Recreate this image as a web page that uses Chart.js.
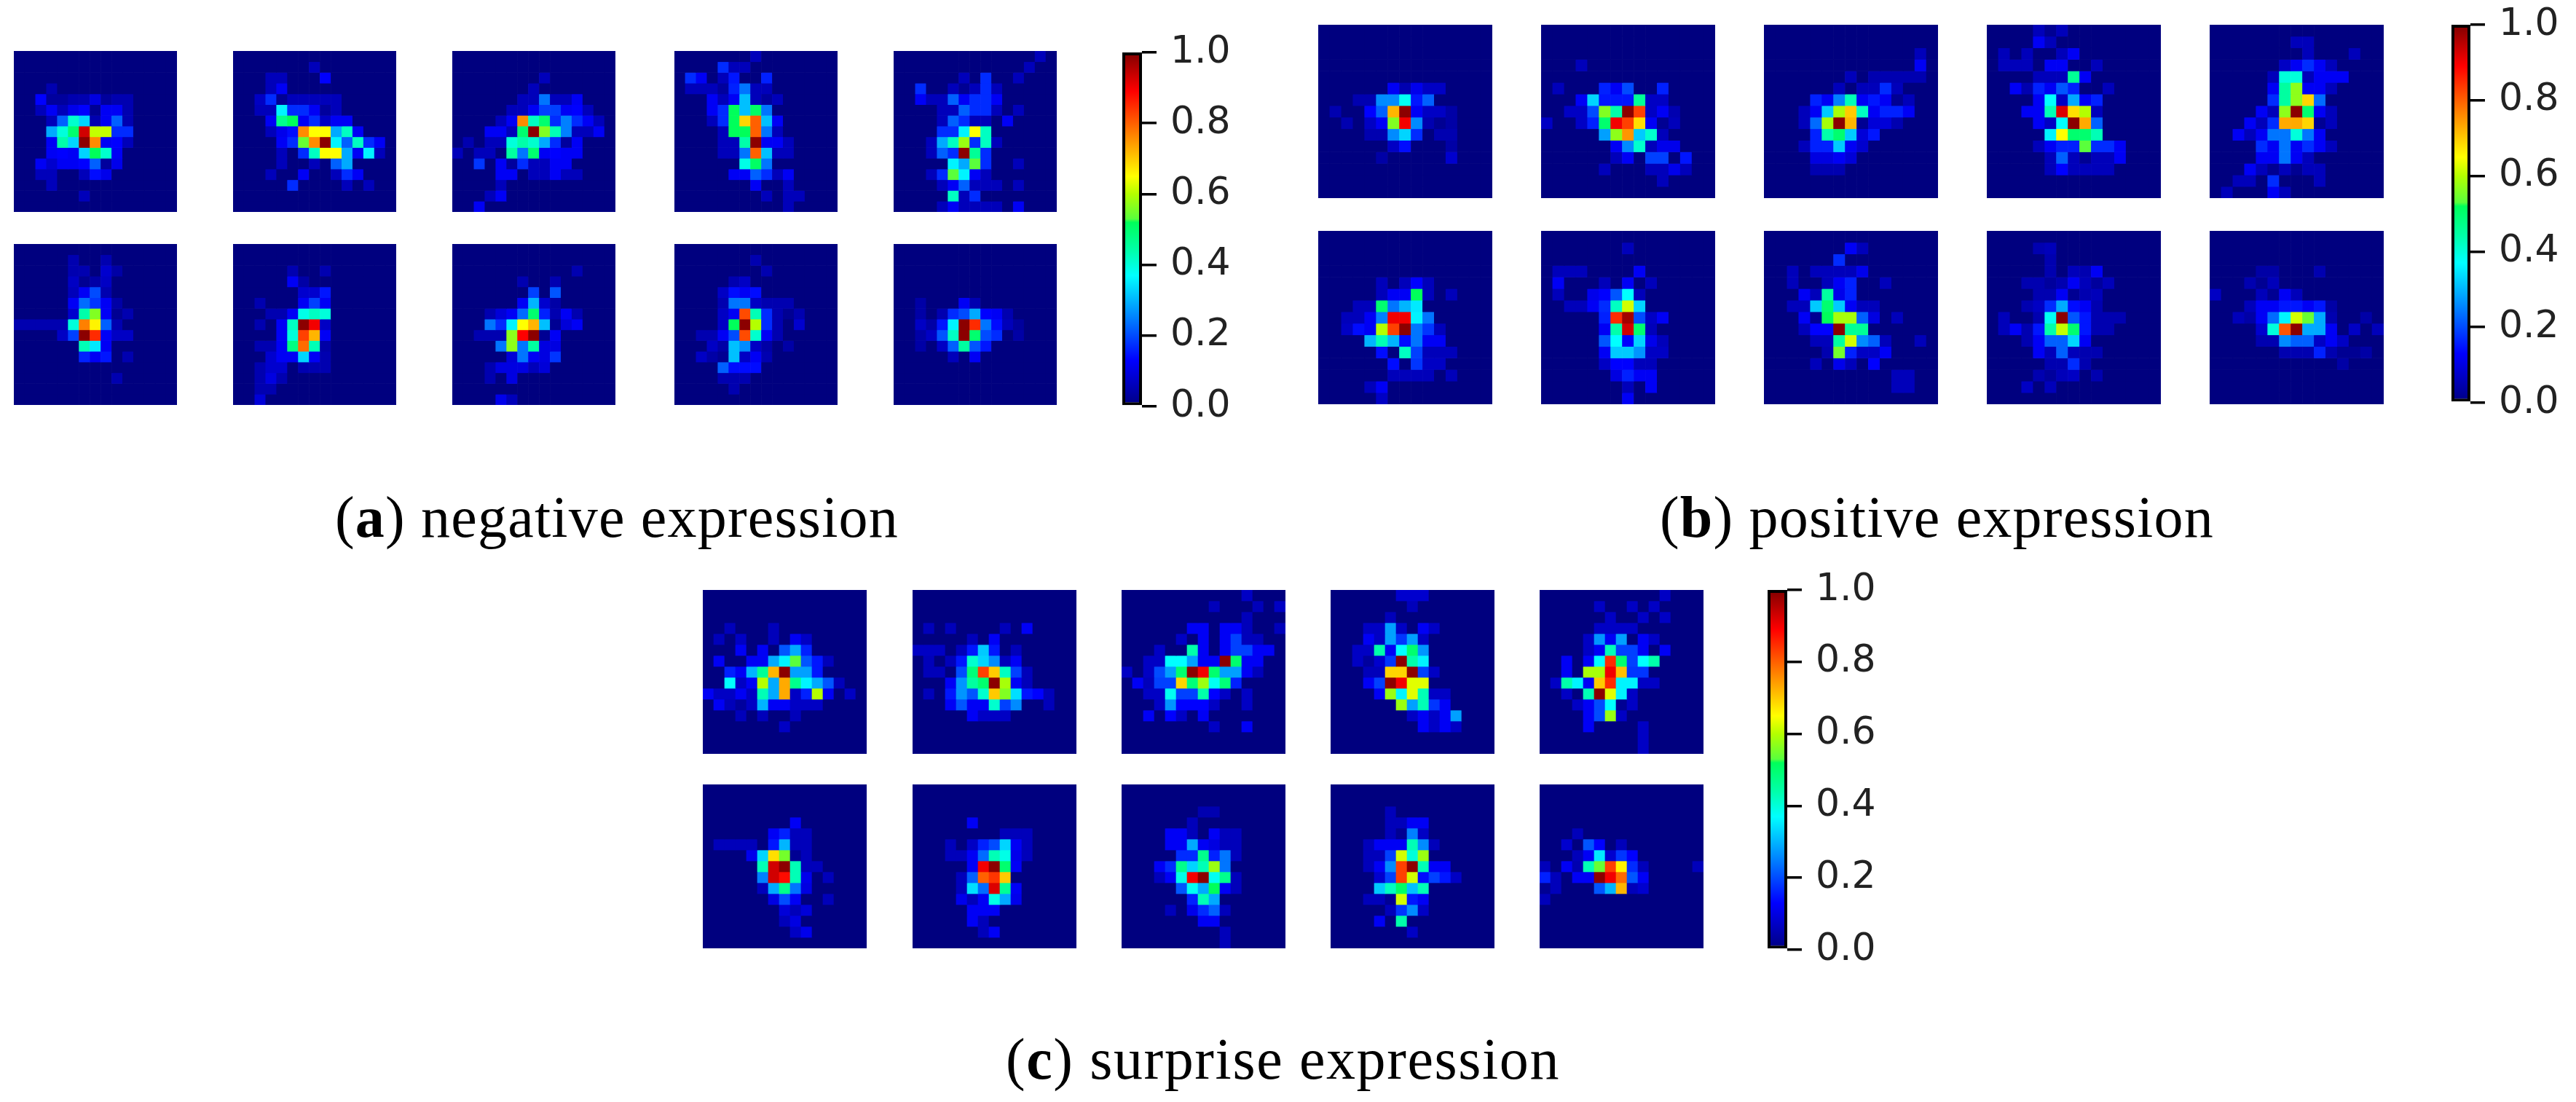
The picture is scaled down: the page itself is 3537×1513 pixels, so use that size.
<!DOCTYPE html>
<html>
<head>
<meta charset="utf-8">
<script src="https://cdn.jsdelivr.net/npm/chart.js@4"></script>
<style>
html, body { margin: 0; padding: 0; background: #fff; }
#page { position: relative; width: 3537px; height: 1513px; overflow: hidden; }
canvas { position: absolute; }
.caption { position: absolute; font: 80px/1 "Liberation Serif", serif; color: #000; white-space: nowrap; }
</style>
</head>
<body>
<div id="page"></div>
<script>
// CELL VALUES IN PERCENT, TOP ROW FIRST. ROWS STOP AT THEIR LAST NON ZERO CELL
const negTop1 = [[],[],[],[0,0,0,5],[0,0,13,3,3,5,5,10,3,5,5],[0,0,6,12,6,11,13,2,12,12,5],[0,0,0,6,22,41,33,5,12,22,5],[0,0,0,29,40,50,93,61,61,17,17],[0,0,0,12,44,33,99,76,12,13,6],[0,0,0,12,13,12,33,52,41,12],[0,0,12,8,12,12,13,22,3,11],[0,0,6,6,0,0,6,14,11],[0,0,0,6],[0,0,0,0,0,0,6],[]];
const negTop2 = [[],[0,0,0,0,0,0,0,6],[0,0,0,6,6,0,0,0,13],[0,0,0,6,12],[0,0,7,17,2,6,6,6,6,6],[0,0,6,6,36,17,17,12,3,6],[0,0,0,12,47,52,12,17,7,12,12],[0,0,0,6,11,14,76,65,65,29,42,12],[0,0,0,0,12,17,54,76,99,36,22,42,17,12],[0,0,0,0,6,0,17,42,65,65,29,12,36,6],[0,0,0,0,6,0,0,6,0,22,29],[0,0,0,6,0,0,12,0,0,6,17,12],[0,0,0,0,0,17,0,0,0,0,6,0,6],[],[]];
const negTop3 = [[],[],[0,0,0,0,0,0,0,0,6],[0,0,0,0,0,0,0,6],[0,0,0,0,0,0,6,6,24,6,6,12],[0,0,0,0,0,6,6,12,19,19,12,13,6],[0,0,0,0,6,12,76,42,50,17,25,17,12,6],[0,0,0,12,12,6,50,99,56,43,25,6,6,12],[0,5,0,6,6,40,44,41,29,17,3,12],[6,0,6,6,0,45,24,50,12,13,12,12],[0,0,18,0,12,3,17,6,6,12,12],[0,0,0,0,12,12,0,6,6,12,6,6],[0,0,0,0,6],[0,0,0,6,12],[0,0,12]];
const negTop4 = [[0,0,0,0,0,0,0,6],[0,0,0,0,17,6,6],[0,17,12,0,6,15,0,0,16],[0,6,6,6,3,16,24,6,6],[0,0,0,12,6,12,31,6,3,6],[0,0,0,12,17,52,31,51,24],[0,0,0,6,17,52,69,80,31,12],[0,0,0,0,6,52,52,80,24,6],[0,0,0,0,6,6,44,99,12,12,6],[0,0,0,0,6,6,24,80,31,6,6],[0,0,0,0,0,0,39,51,24],[0,0,0,0,0,12,12,22,17,6,12],[0,0,0,0,0,0,0,12,0,0,6],[0,0,0,0,0,0,0,0,6,0,6,6],[0,0,0,0,0,0,0,0,0,0,6]];
const negTop5 = [[0,0,0,0,0,0,0,0,0,0,0,0,0,6],[0,0,0,0,0,0,0,0,0,0,0,0,6],[0,0,0,0,0,0,6,0,17,0,0,6],[0,0,17,0,0,6,2,6,17,6],[0,0,12,6,6,22,12,17,17,12],[0,0,0,0,6,6,22,17,17,6,0,6],[0,0,0,0,6,22,17,6,6,0,12],[0,0,0,0,17,17,36,65,42],[0,0,0,6,29,42,58,17,42,6],[0,0,0,6,22,17,99,46,17],[0,0,0,0,0,36,29,53,17,0,0,6],[0,0,0,6,17,53,36,12,6],[0,0,0,0,6,12,22,6,6,6,0,6],[0,0,0,0,0,42,6,17],[0,0,0,0,6,12,6,6,6,6,0,12]];
const negBot1 = [[],[0,0,0,0,0,5,0,0,5],[0,0,0,0,0,5,5,0,8,4],[0,0,0,0,0,7,2,4,7],[0,0,0,0,0,6,12,20,5],[0,0,0,0,0,12,23,18,12,4],[0,0,0,0,0,8,44,56,12,2,5],[5,5,5,5,5,40,77,66,22,5],[0,0,0,0,7,19,99,85,12,7,7],[0,0,0,0,0,0,43,35,12],[0,0,0,0,0,0,16,12,15,0,5],[],[0,0,0,0,0,0,0,0,0,5],[],[]];
const negBot2 = [[],[],[0,0,0,0,0,5,0,0,5],[0,0,0,0,0,12,4],[0,0,0,0,0,0,8,8,15],[0,0,5,0,0,0,12,19,12],[0,0,0,5,5,12,39,42,40],[0,0,5,0,12,42,99,90,7],[0,0,0,0,12,40,83,72,12],[0,0,5,5,12,48,79,43,4],[0,0,0,8,12,12,33,12,5],[0,0,5,8,8,0,5,5,5],[0,0,5,10,5],[0,0,5,5],[0,0,9]];
const negBot3 = [[],[],[0,0,0,0,0,0,0,0,0,0,0,5],[0,0,0,0,0,0,5,0,0,5],[0,0,0,0,0,0,0,19,0,21],[0,0,0,0,0,0,12,30,8,4],[0,0,0,5,9,12,23,50,16,5,12,5],[0,0,0,24,17,36,65,72,31,2,9,12],[0,0,5,5,5,57,89,99,2,12],[0,0,0,0,24,57,24,45,10,10],[0,0,0,0,0,9,24,12,10,18],[0,0,0,5,10,10,10,6,9],[0,0,0,5,0,10],[],[0,0,0,0,11,6]];
const negBot4 = [[],[0,0,0,0,0,0,0,5],[0,0,0,0,0,0,0,0,5],[0,0,0,0,0,5,7],[0,0,0,0,7,14,12,14],[0,0,0,0,5,24,24,7,5,5,5],[0,0,0,0,7,12,82,43,17,5,2,5],[0,0,0,0,7,52,99,60,17,5,0,8],[0,0,5,5,12,20,82,41,12,5],[0,0,0,7,4,31,26,7,4,0,4],[0,0,7,4,2,31,7,12,5],[0,0,0,0,22,14,14,14],[0,0,0,0,5,5,5],[0,0,0,0,0,5],[]];
const negBot5 = [[],[],[],[],[],[0,0,4,0,0,0,12,5],[0,0,4,0,5,17,20,29,13,12,5],[0,0,7,4,15,36,99,85,24,14,6,3],[0,0,4,7,21,42,99,50,20,17,0,4],[0,0,4,0,7,22,45,21,15],[0,0,0,0,0,6,0,12],[],[],[],[]];

const posTop1 = [[],[],[],[],[],[0,0,0,0,0,0,12,5,11,7,7],[0,0,0,5,5,26,26,38,15,22],[0,5,0,0,13,22,72,99,12,7,7,4],[0,0,5,0,7,12,56,90,26,5,2,4],[0,0,0,0,5,5,26,33,17,0,5,5],[0,0,0,0,0,0,7,14,0,0,0,4],[0,0,0,0,0,4,0,0,0,0,0,8],[],[],[]];
const posTop2 = [[],[],[],[0,0,0,6],[],[0,6,0,0,0,16,12,20,0,0,16],[0,0,0,12,33,15,15,15,46,7,7],[0,0,7,7,20,56,44,99,83,7,12,5],[7,0,0,7,16,50,90,83,68,12,2,6],[0,0,0,0,0,28,57,75,32,41,6],[0,0,0,0,0,0,12,26,41,6,11,11],[0,0,0,0,0,0,6,12,0,19,19,0,15],[0,0,0,0,0,6,0,0,0,6,6,11,6],[0,0,0,0,0,0,0,0,0,0,6],[]];
const posTop3 = [[],[],[0,0,0,0,0,0,0,0,0,0,0,0,0,6],[0,0,0,0,0,0,0,0,0,0,0,0,0,12],[0,0,0,0,0,0,0,6,0,5,5,5,5,5],[0,0,0,0,0,0,6,0,6,6,17,6],[0,0,0,0,16,12,25,43,12,15,12,2,6],[0,0,0,6,12,32,59,70,42,12,16,16,12],[0,0,0,6,23,59,99,72,2,9,9,5],[0,0,0,0,16,44,50,32,9,15],[0,0,0,6,16,16,32,12,8],[0,0,0,0,10,10,12,9],[0,0,0,0,5,5,5],[],[]];
const posTop4 = [[0,0,0,0,6,2,6],[0,0,0,0,12,6],[0,6,0,6,0,0,6,12],[0,6,6,6,0,12,12,0,0,6],[0,0,0,0,6,6,6,46,12],[0,0,12,5,16,12,21,16,0,0,6],[0,0,0,0,12,37,7,29,12,16],[0,0,0,12,12,43,92,68,60,6],[0,0,0,0,12,7,37,99,73,22],[0,0,0,0,0,36,65,50,50,43],[0,0,0,0,6,12,16,16,53,17,17,12],[0,0,0,0,0,6,22,6,2,6,6,12],[0,0,0,0,0,6,13,6,6,6,6],[],[]];
const posTop5 = [[],[0,0,0,0,0,0,0,6,6],[0,0,0,0,0,0,0,0,6,0,0,0,6],[0,0,0,0,0,0,7,12,17,12,6],[0,0,0,0,0,6,40,40,6,12,12,12],[0,0,0,0,0,12,45,57,12,12,6],[0,0,0,0,0,17,45,57,69,23],[0,0,0,0,12,6,57,99,50,12,6],[0,0,0,12,6,17,73,73,69,2,6],[0,0,12,6,12,24,24,40,24,12],[0,0,0,0,17,12,24,12,17,12,6],[0,0,0,0,12,12,24,12,6],[0,0,0,12,6,2,6,2,6,6],[0,0,6,6,0,17,0,0,0,6],[0,6,0,0,0,12,6]];
const posBot1 = [[],[],[],[],[0,0,0,0,0,6,0,6,13,6],[0,0,0,0,0,6,12,12,52,6,0,6],[0,0,0,6,6,50,24,30,35],[0,0,6,6,12,25,90,90,36,24],[0,0,7,14,12,60,83,99,24,18,6],[0,0,0,0,30,43,30,14,24,12,12],[0,0,0,0,0,14,0,42,19,6,6,6],[0,0,0,0,0,0,14,0,18,7,7],[0,0,0,0,0,0,6,6,6,6,0,6],[0,0,0,0,6,12],[0,0,0,0,0,7]];
const posBot2 = [[],[0,0,0,0,0,0,0,6],[],[0,6,6,6,0,0,0,0,12],[0,12,0,0,0,6,0,12,0,6],[0,6,0,0,11,13,21,37,6],[0,0,6,6,12,17,42,62,33],[0,0,0,0,0,16,85,97,20,7,12],[0,0,0,0,0,12,44,93,50,6],[0,0,0,0,0,21,37,13,33,11,6],[0,0,0,0,0,12,32,32,27,7,7],[0,0,0,0,0,7,13,13,6,6],[0,0,0,0,0,0,10,16,12,12],[0,0,0,0,0,0,0,6,0,12],[0,0,0,0,0,0,0,12]];
const posBot3 = [[],[0,0,0,0,0,0,0,12,6],[0,0,0,0,0,0,17],[0,0,6,0,6,6,6,6,11],[0,0,6,0,0,6,12,16,0,0,6],[0,0,0,12,6,45,11,16],[0,0,6,6,32,50,32,12,6,6],[0,0,0,12,2,52,59,59,22,10,0,6],[0,0,0,6,13,13,99,46,46],[0,0,0,0,6,6,45,62,26,22,6,0,0,6],[0,0,0,0,0,5,55,16,7,7,12],[0,0,0,0,6,0,11,6,0,13],[0,0,0,0,0,0,0,0,0,0,0,6,6],[0,0,0,0,0,0,0,0,0,0,0,6,6],[]];
const posBot4 = [[],[0,0,0,0,5,6],[0,0,0,0,0,5],[0,0,0,0,0,5,0,6,5,12],[0,0,0,5,5,3,5,12,6,3,6],[0,0,0,0,5,5,12,2,5,6],[0,0,0,5,7,17,29,14,12,5],[0,6,0,0,5,38,99,21,15,5,5,5],[0,6,12,5,15,44,61,50,15,5,5],[0,0,0,5,12,22,22,33,12],[0,0,0,0,12,6,22,6,5,5],[0,0,0,0,0,5,5,17,5],[0,0,0,0,5,3,6,7,0,5],[0,0,0,7,0,6],[]];
const posBot5 = [[],[],[],[0,0,0,0,4,4,0,0,0,5],[0,0,0,5,2,6],[7,0,0,0,6,2,12,6],[0,0,0,6,12,12,15,15,12,15,4],[0,0,6,4,12,23,36,62,54,29,5,0,0,4],[0,0,0,0,8,40,81,99,29,29,12,0,7,0,6],[0,0,0,0,5,5,26,22,22,7,12,7],[0,0,0,0,0,0,5,5,5,16,5,2,2,4],[0,0,0,0,0,0,0,0,0,0,0,4],[],[],[]];

const surTop1 = [[],[],[],[0,0,6,0,0,0,6],[0,6,0,7,0,0,6,0,12,7],[0,0,0,12,0,12,0,21,29,16],[0,12,0,0,12,12,29,36,53,21,15,6],[0,0,16,12,30,46,72,99,28,28,15],[0,0,37,7,12,60,29,73,47,36,29,21,6],[12,7,7,12,7,43,29,73,7,16,60,12,0,7],[0,12,6,3,7,30,12,12,7,7,7],[0,0,0,6,0,6,0,0,6],[0,0,0,0,0,0,0,7],[],[]];
const surTop2 = [[],[],[],[0,6,0,6,0,0,0,0,6,0,12],[0,0,0,0,0,6,0,12],[7,7,7,0,6,15,32,15,0,6],[0,6,0,6,15,41,33,26,6,12],[0,6,6,0,20,49,83,70,42,19,6],[0,0,0,12,27,45,50,99,59,12,6],[0,6,0,15,27,21,41,70,56,34,15,13,6],[0,0,0,12,21,12,12,41,19,26,0,0,6],[0,0,0,0,0,12,7,7,7],[],[],[]];
const surTop3 = [[0,0,0,0,0,0,0,0,0,0,0,7],[0,0,0,0,0,0,0,0,6,0,0,0,6,0,7],[0,0,0,0,0,0,0,0,0,0,0,6],[0,0,0,0,0,0,12,12,0,12,12,6,0,0,6],[0,0,0,0,0,7,0,12,0,12,19,6,6],[0,0,0,7,0,0,44,12,0,12,19,19,12,12],[0,0,7,7,37,37,28,12,12,99,50,12,12],[7,0,7,20,28,50,99,90,50,28,28,12,6],[0,12,6,19,19,69,49,58,38,49,16],[0,0,7,7,38,19,19,44,13,7,0,7],[0,0,0,7,27,13,13,13,7,0,0,7],[0,0,12,0,13,7,0,12],[0,0,0,0,0,0,0,0,7,0,0,12],[],[]];
const surTop4 = [[0,0,0,0,0,0,8,8,8],[0,0,0,0,0,0,0,6],[0,0,0,0,0,6],[0,0,0,7,7,28,7,0,12,7],[0,0,0,12,7,28,18,28,7],[0,0,7,7,44,12,37,50,27],[0,0,7,3,8,18,99,44,36],[0,0,0,6,6,69,69,99,19,7],[0,0,0,12,19,99,90,63,63],[0,0,0,0,12,58,36,63,43,7,7],[0,0,0,0,0,0,58,28,43,18,12],[0,0,0,0,0,0,0,7,12,7,12,28],[0,0,0,0,0,0,0,0,12,7,12,7],[],[]];
const surTop5 = [[0,0,0,0,0,0,0,0,0,0,0,7],[0,0,0,0,0,7,0,0,7,0,7],[0,0,0,0,0,0,7,0,0,7,0,7],[0,0,0,0,0,7,7,7,7],[0,0,0,0,7,27,12,28,0,12,7],[0,0,0,0,7,12,43,19,19,12,0,12],[0,0,12,0,12,37,85,50,19,37,44],[0,0,12,0,59,59,90,71,18,18],[0,7,44,36,12,70,85,36,36,7,7],[0,0,7,0,43,99,63,36,7],[0,0,0,7,12,20,37,2,7],[0,0,0,0,12,20,58,7],[0,0,0,0,12,0,0,0,0,7],[0,0,0,0,0,0,0,0,0,7],[0,0,0,0,0,0,0,0,0,7]];
const surBot1 = [[],[],[],[0,0,0,0,0,0,0,0,12],[0,0,0,0,0,0,12,16,6,6],[0,6,6,6,6,0,15,30,6,6],[0,0,0,0,11,33,68,55,2,6],[0,0,0,0,0,43,93,99,43,6,6],[0,0,0,0,0,25,93,88,43,11,0,6],[0,0,0,0,0,6,29,47,24,10],[0,0,0,0,0,0,10,20,12,0,0,6],[0,0,0,0,0,0,0,9,6,9],[0,0,0,0,0,0,0,6,10],[0,0,0,0,0,0,0,0,7,11],[]];
const surBot2 = [[],[],[],[0,0,0,0,0,12],[0,0,0,0,0,0,0,0,6,6,6],[0,0,0,6,0,7,16,20,33,12,6],[0,0,0,6,6,12,23,43,39,11,6],[0,0,0,0,0,12,90,99,50,12],[0,0,0,0,6,22,80,84,70],[0,0,0,0,6,34,23,92,46,12],[0,0,0,0,11,6,12,39,29,11],[0,0,0,0,0,12,12,12],[0,0,0,0,0,12,6],[0,0,0,0,0,0,6,12],[]];
const surBot3 = [[],[],[0,0,0,0,0,0,0,5,5],[0,0,0,0,0,0,6],[0,0,0,0,12,12,6,0,12,6,6],[0,0,0,0,12,12,29,12,10,6,6],[0,0,0,0,0,17,17,47,16,24,6],[0,0,0,12,17,47,33,43,58,24],[0,0,0,6,12,39,90,99,38,47,6],[0,0,0,0,0,21,38,29,52,12,6],[0,0,0,0,0,0,16,43,29],[0,0,0,0,6,0,11,17,22,6],[0,0,0,0,0,0,0,12,12],[0,0,0,0,0,0,0,0,0,6],[0,0,0,0,0,0,0,0,0,6]];
const surBot4 = [[],[],[0,0,0,0,0,6],[0,0,0,0,0,6,6,12,12],[0,0,0,0,0,6,2,25,7],[0,0,0,6,12,12,12,43,26,6],[0,0,0,6,6,19,62,40,58],[0,0,0,6,12,26,83,99,43,12,12],[0,0,0,0,8,19,83,62,14,19,15,7],[0,0,0,0,32,42,51,31,43],[0,0,0,6,6,2,62,15,12],[0,0,0,0,0,6,18,26,7],[0,0,0,0,12,0,44],[0,0,0,0,0,0,0,7],[]];
const surBot5 = [[],[],[],[],[0,0,0,6],[0,0,8,0,21,13,0,6],[0,0,0,6,12,35,8,18,13],[6,0,12,5,43,54,83,66,17,6,0,0,0,0,6],[16,6,0,12,12,99,90,79,21,12],[2,6,0,0,0,21,30,72,6,8],[6],[],[],[],[]];

const tickValues = [0, 0.2, 0.4, 0.6, 0.8, 1];
const captions = [["a", "negative expression"], ["b", "positive expression"], ["c", "surprise expression"]];

// COLOUR STOPS OF THE COLOUR BAR: VALUE, R, G, B
const colorStops = [[0,0,0,127],[0.13,0,0,255],[0.25,0,128,255],[0.37,0,255,255],[0.44,0,255,170],[0.52,0,255,90],[0.53,90,255,60],[0.6,180,255,0],[0.65,255,255,0],[0.77,255,128,0],[0.89,255,0,0],[1,128,0,0]];

// WHERE EVERYTHING GOES ON THE PAGE
const figures = [
	{ panels: [[negTop1, negTop2, negTop3, negTop4, negTop5], [negBot1, negBot2, negBot3, negBot4, negBot5]],
	  xs: [19, 320, 621, 926, 1227], ys: [70, 335], w: 224, h: 221,
	  bar: { x: 1541, y: 72, w: 27, h: 486 }, caption: { x: 460, y: 670, spacing: 1.2 } },
	{ panels: [[posTop1, posTop2, posTop3, posTop4, posTop5], [posBot1, posBot2, posBot3, posBot4, posBot5]],
	  xs: [1810, 2116, 2422, 2728, 3034], ys: [34, 317], w: 239, h: 238,
	  bar: { x: 3366, y: 34, w: 26, h: 519 }, caption: { x: 2279, y: 670, spacing: 1.2 } },
	{ panels: [[surTop1, surTop2, surTop3, surTop4, surTop5], [surBot1, surBot2, surBot3, surBot4, surBot5]],
	  xs: [965, 1253, 1540, 1827, 2114], ys: [810, 1077], w: 225, h: 225,
	  bar: { x: 2427, y: 810, w: 27, h: 494 }, caption: { x: 1381, y: 1414, spacing: 1.6 } }
];

const page = document.getElementById("page");
const GRID = 15;
const cols = Array.from({ length: GRID }, (_, i) => i);

Chart.defaults.animation = false;
Chart.defaults.responsive = false;
Chart.defaults.devicePixelRatio = 1;
Chart.defaults.plugins.legend.display = false;
Chart.defaults.plugins.tooltip.enabled = false;

function colorFor(value){
	let i = 1;
	while( i < colorStops.length - 1 && value > colorStops[i][0] ){
		i++;
	}
	const a = colorStops[i - 1], b = colorStops[i];
	const t = Math.min(1, (value - a[0]) / (b[0] - a[0]));
	return `rgb(${[1, 2, 3].map( k => Math.round(a[k] + (b[k] - a[k]) * t) ).join(",")})`;
}

function addCanvas(x, y, w, h){
	const canvas = document.createElement("canvas");
	canvas.width = w;
	canvas.height = h;
	canvas.style.left = x + "px";
	canvas.style.top = y + "px";
	page.appendChild(canvas);
	return canvas;
}

// ONE FLOATING BAR PER CELL, ONE DATASET PER ROW
function drawPanel(rows, x, y, w, h){
	new Chart(addCanvas(x, y, w, h), {
		type: "bar",
		data: {
			labels: cols,
			datasets: rows.map( (row, r) => ({
				data: cols.map( () => [r, r + 1] ),
				backgroundColor: cols.map( c => colorFor((row[c] || 0) / 100) ),
				barPercentage: 1,
				categoryPercentage: 1,
				grouped: false
			}))
		},
		options: {
			layout: { padding: 0 },
			scales: {
				x: { display: false },
				y: { display: false, min: 0, max: GRID, reverse: true }
			}
		}
	});
}

function drawColorbar(bar){
	const pad = 32, extra = 150;
	new Chart(addCanvas(bar.x, bar.y - pad, bar.w + extra, bar.h + pad * 2), {
		type: "bar",
		data: {
			labels: [""],
			datasets: [{
				data: [[0, 1]],
				barPercentage: 1,
				categoryPercentage: 1,
				borderColor: "#000",
				borderWidth: 4,
				borderSkipped: false,
				inflateAmount: 0,
				backgroundColor: ctx => {
					const area = ctx.chart.chartArea;
					if( !area ) return colorFor(0);
					const gradient = ctx.chart.ctx.createLinearGradient(0, area.bottom, 0, area.top);
					colorStops.forEach( s => gradient.addColorStop(s[0], colorFor(s[0])) );
					return gradient;
				}
			}]
		},
		options: {
			layout: { padding: { top: pad, bottom: pad } },
			scales: {
				x: { display: false },
				y: {
					position: "right",
					min: 0,
					max: 1,
					// KEEP THE BAR THE WIDTH AND HEIGHT WE ASKED FOR
					afterFit: scale => {
						scale.width = extra;
						scale.paddingTop = 0;
						scale.paddingBottom = 0;
					},
					afterBuildTicks: scale => { scale.ticks = tickValues.map( value => ({ value }) ); },
					border: { display: false },
					grid: { drawOnChartArea: false, drawTicks: true, tickLength: 20, color: "#000", lineWidth: 3.5 },
					ticks: {
						padding: 19,
						color: "#222",
						font: { family: "'DejaVu Sans'", size: 52 },
						callback: value => value.toFixed(1)
					}
				}
			}
		}
	});
}

function addCaption(letter, text, pos){
	const el = document.createElement("div");
	el.className = "caption";
	el.style.left = pos.x + "px";
	el.style.top = pos.y + "px";
	el.style.letterSpacing = pos.spacing + "px";
	el.innerHTML = `(<b>${letter}</b>) ${text}`;
	page.appendChild(el);
}

figures.forEach( (fig, i) => {
	fig.panels.forEach( (line, row) => {
		line.forEach( (rows, col) => {
			drawPanel(rows, fig.xs[col], fig.ys[row], fig.w, fig.h);
		});
	});
	drawColorbar(fig.bar);
	addCaption(captions[i][0], captions[i][1], fig.caption);
});
</script>
</body>
</html>
